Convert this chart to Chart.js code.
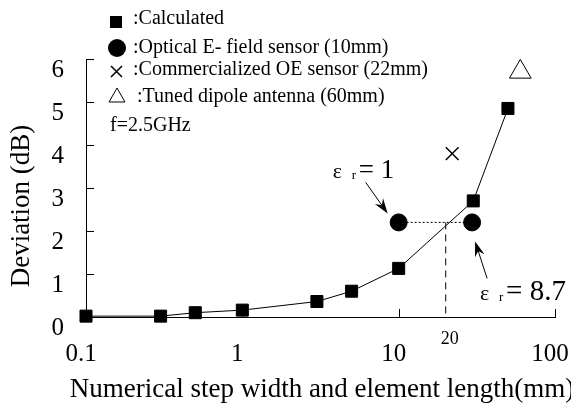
<!DOCTYPE html>
<html>
<head>
<meta charset="utf-8">
<script src="https://cdn.jsdelivr.net/npm/chart.js@4"></script>
<style>
  html, body { margin: 0; padding: 0; background: #fff; }
  #wrap { width: 571px; height: 406px; }
</style>
</head>
<body>
<div id="wrap"><canvas id="deviationChart"></canvas></div>
<script>
// Deviation vs. numerical step width / element length (mm), f = 2.5 GHz
const calcLength = [0.1, 0.3, 0.5, 1, 3, 5, 10, 30, 50];
const calcDeviation = [0.02, 0.02, 0.1, 0.16, 0.36, 0.6, 1.13, 2.7, 4.85];
const opticalLength = [10, 29.5];       // eps_r = 1 and eps_r = 8.7
const opticalDeviation = [2.2, 2.2];
const oeLength = [22];
const oeDeviation = [3.8];
const dipoleLength = [60];
const dipoleDeviation = [5.7];
const crossLength = 20;
const xTicks = [0.1, 1, 10, 100];
const yTicks = [0, 1, 2, 3, 4, 5, 6];

const SERIF = '"Liberation Serif", "Times New Roman", serif';

function toPoints(xs, ys) {
  return xs.map((v, i) => ({ x: v, y: ys[i] }));
}

// small arrow with a barbed head
function drawArrow(ctx, x1, y1, x2, y2) {
  const ang = Math.atan2(y2 - y1, x2 - x1);
  const len = 15, half = 5, notch = 10;
  ctx.beginPath();
  ctx.moveTo(x1, y1);
  ctx.lineTo(x2 - Math.cos(ang) * notch, y2 - Math.sin(ang) * notch);
  ctx.stroke();
  ctx.beginPath();
  ctx.moveTo(x2, y2);
  ctx.lineTo(x2 - Math.cos(ang) * len - Math.sin(ang) * half, y2 - Math.sin(ang) * len + Math.cos(ang) * half);
  ctx.lineTo(x2 - Math.cos(ang) * notch, y2 - Math.sin(ang) * notch);
  ctx.lineTo(x2 - Math.cos(ang) * len + Math.sin(ang) * half, y2 - Math.sin(ang) * len - Math.cos(ang) * half);
  ctx.closePath();
  ctx.fill();
}

// eps_r label: epsilon, small subscript r, then "= value"
function drawEps(ctx, x, y, value, size) {
  ctx.textBaseline = 'alphabetic';
  ctx.textAlign = 'left';
  ctx.font = '22px ' + SERIF;
  ctx.fillText('\u03b5', x, y);
  ctx.font = '13px ' + SERIF;
  ctx.fillText('r', x + 19, y + 1);
  ctx.font = size + 'px ' + SERIF;
  ctx.fillText('= ' + value, x + 26, y);
}

// keep the plot box fixed: no extra room for overhanging tick labels
function fixBox(scale, size) {
  if (scale.isHorizontal()) scale.height = size; else scale.width = size;
  scale.paddingLeft = 0;
  scale.paddingRight = 0;
  scale.paddingTop = 0;
  scale.paddingBottom = 0;
}

const extras = {
  id: 'extras',
  afterDraw(chart) {
    const { ctx, chartArea: area, scales: { x, y } } = chart;
    ctx.save();
    ctx.strokeStyle = '#000';
    ctx.fillStyle = '#000';
    ctx.lineWidth = 1;

    // inward tick marks
    ctx.beginPath();
    yTicks.slice(1).forEach(v => {
      const py = Math.round(y.getPixelForValue(v)) + 0.5;
      ctx.moveTo(area.left, py);
      ctx.lineTo(area.left + 8, py);
    });
    xTicks.slice(1).forEach(v => {
      const px = Math.round(x.getPixelForValue(v)) + 0.5;
      ctx.moveTo(px, area.bottom);
      ctx.lineTo(px, area.bottom - 8);
    });
    ctx.stroke();

    // "20" under the dashed crossing line
    ctx.font = '18px ' + SERIF;
    ctx.textAlign = 'center';
    ctx.textBaseline = 'middle';
    ctx.fillText(String(crossLength), x.getPixelForValue(crossLength) + 4, area.bottom + 22);

    // axis titles
    ctx.font = '27px ' + SERIF;
    ctx.fillText('Numerical step width and element length(mm)', 322, 390);
    ctx.save();
    ctx.translate(22, 206);
    ctx.rotate(-Math.PI / 2);
    ctx.fillText('Deviation (dB)', 0, 0);
    ctx.restore();

    // legend
    const mx = 116;
    ctx.fillRect(mx - 6, 16, 12, 12);
    ctx.beginPath();
    ctx.arc(mx + 1, 48, 9, 0, Math.PI * 2);
    ctx.fill();
    ctx.lineWidth = 1.5;
    ctx.beginPath();
    ctx.moveTo(mx - 5, 66); ctx.lineTo(mx + 6, 77);
    ctx.moveTo(mx + 6, 66); ctx.lineTo(mx - 5, 77);
    ctx.stroke();
    ctx.lineWidth = 1;
    ctx.beginPath();
    ctx.moveTo(mx + 1, 88); ctx.lineTo(mx + 9, 102); ctx.lineTo(mx - 7, 102);
    ctx.closePath();
    ctx.stroke();

    ctx.font = '20px ' + SERIF;
    ctx.textAlign = 'left';
    ctx.fillText(':Calculated', 133, 19);
    ctx.fillText(':Optical E- field sensor (10mm)', 133, 48);
    ctx.fillText(':Commercialized OE sensor (22mm)', 133, 70);
    ctx.fillText(':Tuned dipole antenna (60mm)', 137, 97);
    ctx.fillText('f=2.5GHz', 110, 126);

    // eps_r annotations next to the two sensor points
    const c1x = x.getPixelForValue(opticalLength[0]);
    const c1y = y.getPixelForValue(opticalDeviation[0]);
    const c2x = x.getPixelForValue(opticalLength[1]);
    const c2y = y.getPixelForValue(opticalDeviation[1]);
    drawEps(ctx, c1x - 66, c1y - 44, '1', 27);
    drawArrow(ctx, c1x - 33, c1y - 40, c1x - 11, c1y - 9);
    drawEps(ctx, c2x + 8, c2y + 78, '8.7', 29);
    drawArrow(ctx, c2x + 15, c2y + 56, c2x + 3, c2y + 19);

    ctx.restore();
  }
};

new Chart(document.getElementById('deviationChart'), {
  type: 'line',
  data: {
    datasets: [
      {
        label: 'Optical E-field sensor',
        data: toPoints(opticalLength, opticalDeviation),
        showLine: false,
        pointStyle: 'circle',
        pointRadius: 8.5,
        backgroundColor: '#000',
        borderColor: '#000',
        clip: false
      },
      {
        label: 'Calculated',
        data: toPoints(calcLength, calcDeviation),
        borderColor: '#000',
        borderWidth: 1,
        pointStyle: 'rect',
        pointRadius: 8.5,
        pointBackgroundColor: '#000',
        pointBorderColor: '#000',
        tension: 0,
        clip: false
      },
      {
        label: 'Commercialized OE sensor',
        data: toPoints(oeLength, oeDeviation),
        showLine: false,
        pointStyle: 'crossRot',
        pointRadius: 9,
        pointBorderWidth: 1.5,
        borderColor: '#000',
        clip: false
      },
      {
        label: 'Tuned dipole antenna',
        data: toPoints(dipoleLength, dipoleDeviation),
        showLine: false,
        pointStyle: 'triangle',
        pointRadius: 12.5,
        pointBorderWidth: 1,
        borderColor: '#000',
        backgroundColor: 'rgba(0,0,0,0)',
        clip: false
      },
      {
        label: 'eps guide',
        data: toPoints(opticalLength, opticalDeviation),
        borderColor: '#000',
        borderWidth: 1,
        borderDash: [2, 2],
        pointRadius: 0,
        clip: false
      },
      {
        label: 'crossing',
        data: toPoints([crossLength, crossLength], [opticalDeviation[0], 0]),
        borderColor: '#000',
        borderWidth: 1,
        borderDash: [7, 5],
        pointRadius: 0,
        clip: false
      }
    ]
  },
  options: {
    responsive: true,
    maintainAspectRatio: false,
    animation: false,
    layout: { autoPadding: false, padding: { top: 59, right: 16, left: 0, bottom: 0 } },
    plugins: { legend: { display: false }, tooltip: { enabled: false } },
    scales: {
      x: {
        type: 'logarithmic',
        min: 0.1,
        max: 100,
        afterBuildTicks: scale => { scale.ticks = xTicks.map(v => ({ value: v })); },
        afterFit: scale => fixBox(scale, 89),
        grid: { display: false, drawTicks: false },
        border: { display: true, color: '#000', width: 1 },
        ticks: {
          color: '#000',
          padding: 22,
          labelOffset: -5,
          maxRotation: 0,
          autoSkip: false,
          font: { family: SERIF, size: 25 },
          callback: v => String(v)
        }
      },
      y: {
        type: 'linear',
        min: 0,
        max: 6,
        afterBuildTicks: scale => { scale.ticks = yTicks.map(v => ({ value: v })); },
        afterFit: scale => fixBox(scale, 86),
        grid: { display: false, drawTicks: false },
        border: { display: true, color: '#000', width: 1 },
        ticks: {
          color: '#000',
          padding: 22,
          labelOffset: 11,
          font: { family: SERIF, size: 25 }
        }
      }
    }
  },
  plugins: [extras]
});
</script>
</body>
</html>
